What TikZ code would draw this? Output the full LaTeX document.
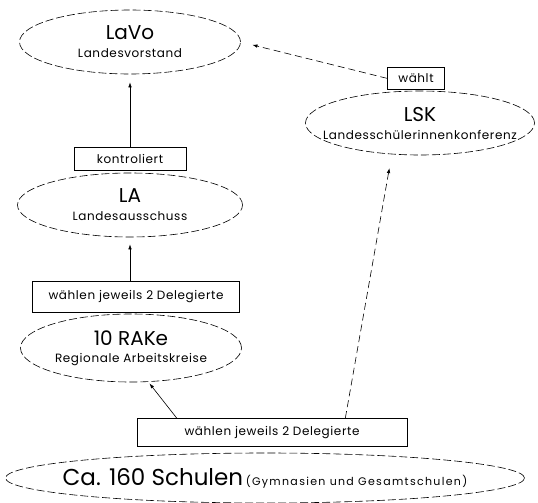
\documentclass[tikz,border=0pt]{standalone}
\usepackage{fontspec}
\setmainfont{Poppins}
\newfontfamily\gesperrt[LetterSpace=5]{Poppins}
\newfontfamily\weitgesperrt[LetterSpace=12]{Poppins}
\usetikzlibrary{positioning}
\usetikzlibrary{shapes.geometric,arrows.meta}

\newcommand{\gross}{\fontsize{20}{22}\selectfont}
\newcommand{\klein}{\gesperrt\fontsize{12}{17}\selectfont}
\newcommand{\winzig}{\weitgesperrt\fontsize{11}{12}\selectfont}

\begin{document}
\begin{tikzpicture}[
    x=1pt, y=-1pt,
    gremium/.style={
        ellipse,
        draw,
        line width=.6pt,
        dash pattern=on 8pt off 3pt,
        align=center,
        inner sep=0pt,
        minimum width=221pt,
        minimum height=64pt,
    },
    etikett/.style={
        draw,
        line width=.7pt,
        font=\klein,
        inner xsep=6pt,
        minimum height=23pt,
    },
    pfeil/.style={
        -{Latex[length=5pt,width=3.5pt]},
        line width=.6pt,
    },
    wahlpfeil/.style={pfeil,dash pattern=on 7pt off 4pt},
]
    \useasboundingbox (0,0) rectangle (538,503);
    % ~~~ Gremien ~~~~~~~~~~~~
    \node[gremium] (lavo) at (130,42)
        {{\gross LaVo}\\[6pt]{\klein Landesvorstand}};
    \node[gremium,minimum width=225pt] (la) at (130,205)
        {{\gross LA}\\[6pt]{\klein Landesausschuss}};
    \node[gremium,minimum height=68pt,inner xsep=-10pt] (rake) at (131,348)
        {{\gross 10 RAKe}\\[5pt]{\klein Regionale Arbeitskreise}};
    \node[gremium,minimum width=229pt,inner xsep=-30pt] (lsk) at (420,123)
        {{\gross LSK}\\[6pt]{\klein Landessch\"ulerinnenkonferenz}};
    \node[gremium,minimum width=519pt,minimum height=50pt,inner xsep=-80pt] (schulen) at (265,478)
        {{\fontsize{23}{24}\selectfont Ca. 160 Schulen} {\winzig (Gymnasien und Gesamtschulen)}};
    % ~~~ Beschriftungen ~~~~~~~~~
    \node[etikett,minimum width=112pt,above=2pt of la] (kontrolle) {kontroliert};
    \node[etikett,minimum width=207pt,minimum height=31pt,above=1pt of rake,xshift=5pt] (rakewahl) {w\"ahlen jeweils 2 Delegierte};
    \node[etikett,minimum width=57pt,minimum height=22pt,above=1pt of lsk,xshift=-4pt,inner xsep=3pt] (lskwahl) {w\"ahlt};
    \node[etikett,minimum width=270pt,minimum height=28pt,above=6pt of schulen,xshift=7pt] (schulwahl) {w\"ahlen jeweils 2 Delegierte};
    % ~~~ Verbindungen ~~~~~~~~
    \draw[pfeil,shorten >=8pt] (lavo.south |- kontrolle.north) -- (lavo.south);
    \draw[pfeil,shorten >=7pt] (la.south |- rakewahl.north) -- (la.south);
    \draw[pfeil,shorten >=2pt] ([xshift=40pt]schulwahl.north west) -- (rake.-63);
    \draw[wahlpfeil,shorten >=14pt] ([xshift=-62pt]schulwahl.north east) -- (lsk.-132);
    \draw[wahlpfeil,shorten >=12pt] (lskwahl.west) -- (lavo.east);
\end{tikzpicture}
\end{document}
